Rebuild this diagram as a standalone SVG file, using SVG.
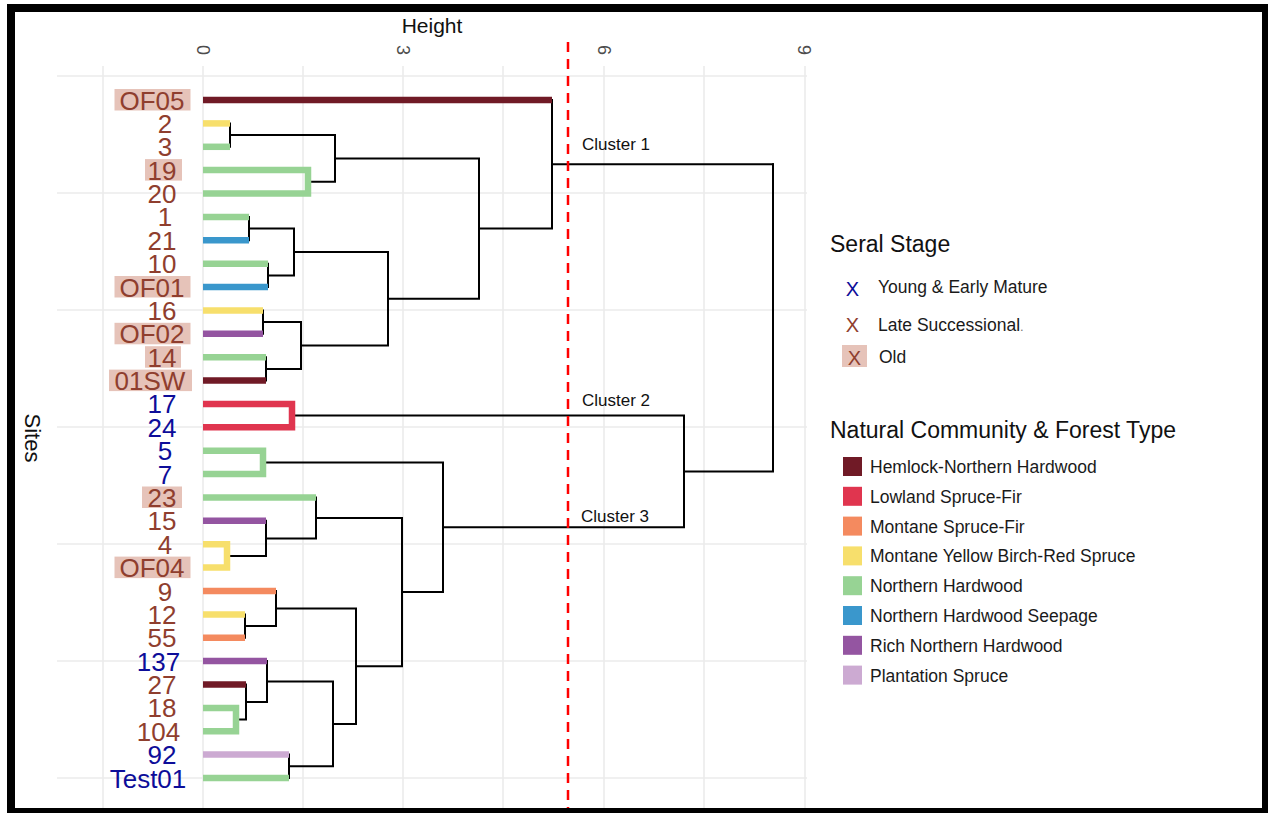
<svg xmlns="http://www.w3.org/2000/svg" width="1268" height="813" viewBox="0 0 1268 813">
<defs>
<style>
.grid{stroke:#ebebeb;stroke-width:1.6;fill:none}
.tick{font-family:"Liberation Sans",Arial,sans-serif;font-size:18px;fill:#4d4d4d;text-anchor:middle}
.lbl{font-family:"Liberation Sans",Arial,sans-serif;font-size:26px;text-anchor:middle}
.late{fill:#8f3e2e}
.young{fill:#0d0d99}
.oldbg{fill:#e6c3b9}
.bar{stroke-width:6.5;fill:none;stroke-linecap:butt;stroke-linejoin:miter}
.conn{stroke:#000;stroke-width:2;fill:none;stroke-linecap:square}
.hem{stroke:#701a26}.low{stroke:#e0354f}.msf{stroke:#f48a5f}.myb{stroke:#f7df6c}
.nh{stroke:#97d394}.nhs{stroke:#3a97cc}.rnh{stroke:#9455a1}.ps{stroke:#ccaad2}
.clu{font-family:"Liberation Sans",Arial,sans-serif;font-size:17px;fill:#111}
.ttl{font-family:"Liberation Sans",Arial,sans-serif;font-size:23px;fill:#111}
.leg{font-family:"Liberation Sans",Arial,sans-serif;font-size:17.5px;fill:#1a1a1a}
.mk{font-family:"Liberation Sans",Arial,sans-serif;font-size:20px;text-anchor:middle}
</style>
</defs>
<rect x="0" y="0" width="1268" height="813" fill="#fff"/>
<g id="grid">
<path class="grid" d="M103,66V808M203,66V808M303,66V808M403,66V808M503,66V808M604,66V808M704,66V808M805,66V808"/>
<path class="grid" d="M57,76H807M57,193H807M57,310H807M57,427H807M57,544H807M57,661H807M57,778H807"/>
</g>
<g id="axes">
<text x="432" y="33" font-family="'Liberation Sans',Arial,sans-serif" font-size="21" fill="#111" text-anchor="middle">Height</text>
<text class="tick" x="197" y="50" transform="rotate(90 197 50)">0</text>
<text class="tick" x="397" y="50" transform="rotate(90 397 50)">3</text>
<text class="tick" x="598" y="50" transform="rotate(90 598 50)">6</text>
<text class="tick" x="798" y="50" transform="rotate(90 798 50)">9</text>
<text x="25" y="438" font-family="'Liberation Sans',Arial,sans-serif" font-size="22" fill="#111" text-anchor="middle" transform="rotate(90 25 438)">Sites</text>
</g>
<g id="connectors">
<path class="conn" d="M230,123.4V146.8M230,135.1H335M308,181.8H335M335,135.1V181.8M335,158.5H479M249,216.9V240.3M249,228.6H294M268,263.7V287M268,275.4H294M294,228.6V275.4M294,252H388M263,310.4V333.8M263,322.1H301M266,357.2V380.6M266,368.9H301M301,322.1V368.9M301,345.5H388M388,252V345.5M388,298.8H479M479,158.5V298.8M479,228.6H552M552,100V228.6M552,164.3H773"/>
<path class="conn" d="M292,415.6H684M263,462.4H443M227,555.9H266M266,520.8V555.9M266,538.4H316M316,497.5V538.4M316,517.9H402M245,614.4V637.7M245,626.1H276M276,591V626.1M276,608.5H356M236,719.6H246M246,684.5V719.6M246,702H267M267,661.1V702M267,681.6H333M289,754.6V778M289,766.3H333M333,681.6V766.3M333,724H356M356,608.5V724M356,666.2H402M402,517.9V666.2M402,592H443M443,462.4V592M443,527.2H684M684,415.6V527.2M684,471.4H773M773,164.3V471.4"/>
</g>
<g id="leaves">
<g id="leaf-OF05"><rect class="oldbg" x="114.5" y="89" width="76" height="21.5"/><text class="lbl late" x="152" y="109.5">OF05</text><path class="bar hem" d="M203,100H552"/></g>
<g id="leaf-2"><text class="lbl late" x="165" y="132.9">2</text><path class="bar myb" d="M203,123.4H230"/></g>
<g id="leaf-3"><text class="lbl late" x="165" y="156.3">3</text><path class="bar nh" d="M203,146.8H230"/></g>
<g id="leaf-19"><rect class="oldbg" x="145" y="159.1" width="37" height="21.5"/><text class="lbl late" x="162" y="179.6">19</text></g>
<g id="leaf-20"><text class="lbl late" x="162" y="203">20</text></g>
<path class="bar nh" d="M203,170.1H308V193.5H203"/>
<g id="leaf-1"><text class="lbl late" x="165" y="226.4">1</text><path class="bar nh" d="M203,216.9H249"/></g>
<g id="leaf-21"><text class="lbl late" x="162" y="249.8">21</text><path class="bar nhs" d="M203,240.3H249"/></g>
<g id="leaf-10"><text class="lbl late" x="162" y="273.2">10</text><path class="bar nh" d="M203,263.7H268"/></g>
<g id="leaf-OF01"><rect class="oldbg" x="114.5" y="276" width="76" height="21.5"/><text class="lbl late" x="152" y="296.5">OF01</text><path class="bar nhs" d="M203,287H268"/></g>
<g id="leaf-16"><text class="lbl late" x="162" y="319.9">16</text><path class="bar myb" d="M203,310.4H263"/></g>
<g id="leaf-OF02"><rect class="oldbg" x="114.5" y="322.8" width="76" height="21.5"/><text class="lbl late" x="152" y="343.3">OF02</text><path class="bar rnh" d="M203,333.8H263"/></g>
<g id="leaf-14"><rect class="oldbg" x="145" y="346.2" width="36" height="21.5"/><text class="lbl late" x="162" y="366.7">14</text><path class="bar nh" d="M203,357.2H266"/></g>
<g id="leaf-01SW"><rect class="oldbg" x="109" y="369.6" width="83" height="21.5"/><text class="lbl late" x="150" y="390.1">01SW</text><path class="bar hem" d="M203,380.6H266"/></g>
<g id="leaf-17"><text class="lbl young" x="162" y="413.4">17</text></g>
<g id="leaf-24"><text class="lbl young" x="162" y="436.8">24</text></g>
<path class="bar low" d="M203,403.9H292V427.3H203"/>
<g id="leaf-5"><text class="lbl young" x="165" y="460.2">5</text></g>
<g id="leaf-7"><text class="lbl young" x="165" y="483.6">7</text></g>
<path class="bar nh" d="M203,450.7H263V474.1H203"/>
<g id="leaf-23"><rect class="oldbg" x="142" y="486.5" width="40" height="21.5"/><text class="lbl late" x="162" y="507">23</text><path class="bar nh" d="M203,497.5H316"/></g>
<g id="leaf-15"><text class="lbl late" x="162" y="530.3">15</text><path class="bar rnh" d="M203,520.8H266"/></g>
<g id="leaf-4"><text class="lbl late" x="165" y="553.7">4</text></g>
<g id="leaf-OF04"><rect class="oldbg" x="114.5" y="556.6" width="76" height="21.5"/><text class="lbl late" x="152" y="577.1">OF04</text></g>
<path class="bar myb" d="M203,544.2H227V567.6H203"/>
<g id="leaf-9"><text class="lbl late" x="165" y="600.5">9</text><path class="bar msf" d="M203,591H276"/></g>
<g id="leaf-12"><text class="lbl late" x="162" y="623.9">12</text><path class="bar myb" d="M203,614.4H245"/></g>
<g id="leaf-55"><text class="lbl late" x="162" y="647.2">55</text><path class="bar msf" d="M203,637.7H245"/></g>
<g id="leaf-137"><text class="lbl young" x="158.5" y="670.6">137</text><path class="bar rnh" d="M203,661.1H267"/></g>
<g id="leaf-27"><text class="lbl late" x="162" y="694">27</text><path class="bar hem" d="M203,684.5H246"/></g>
<g id="leaf-18"><text class="lbl late" x="162" y="717.4">18</text></g>
<g id="leaf-104"><text class="lbl late" x="158.5" y="740.8">104</text></g>
<path class="bar nh" d="M203,707.9H236V731.3H203"/>
<g id="leaf-92"><text class="lbl young" x="162" y="764.1">92</text><path class="bar ps" d="M203,754.6H289"/></g>
<g id="leaf-Test01"><text class="lbl young" x="148" y="787.5">Test01</text><path class="bar nh" d="M203,778H289"/></g>
</g>
<g id="cutline">
<path d="M568,42V808" stroke="#ff0000" stroke-width="2.5" stroke-dasharray="10 7" fill="none"/>
</g>
<g id="cluster-labels">
<text class="clu" x="582" y="150">Cluster 1</text>
<text class="clu" x="582" y="406">Cluster 2</text>
<text class="clu" x="581" y="522">Cluster 3</text>
</g>
<g id="legend-seral">
<text class="ttl" x="830" y="252">Seral Stage</text>
<g id="seral-young"><text class="mk young" x="852.5" y="296">X</text><text class="leg" x="878" y="293">Young &amp; Early Mature</text></g>
<g id="seral-late"><text class="mk late" x="852.5" y="332">X</text><text class="leg" x="878" y="331">Late Successional<tspan fill="#777" font-size="13">.</tspan></text></g>
<g id="seral-old"><rect class="oldbg" x="842" y="345" width="25" height="22"/><text class="mk late" x="854.5" y="365">X</text><text class="leg" x="879" y="363">Old</text></g>
</g>
<g id="legend-forest">
<text class="ttl" x="830" y="438">Natural Community &amp; Forest Type</text>
<g id="ft-hem"><rect x="843" y="457" width="19" height="19" fill="#701a26"/><text class="leg" x="870" y="473">Hemlock-Northern Hardwood</text></g>
<g id="ft-low"><rect x="843" y="486.8" width="19" height="19" fill="#e0354f"/><text class="leg" x="870" y="502.8">Lowland Spruce-Fir</text></g>
<g id="ft-msf"><rect x="843" y="516.6" width="19" height="19" fill="#f48a5f"/><text class="leg" x="870" y="532.6">Montane Spruce-Fir</text></g>
<g id="ft-myb"><rect x="843" y="546.4" width="19" height="19" fill="#f7df6c"/><text class="leg" x="870" y="562.4">Montane Yellow Birch-Red Spruce</text></g>
<g id="ft-nh"><rect x="843" y="576.2" width="19" height="19" fill="#97d394"/><text class="leg" x="870" y="592.2">Northern Hardwood</text></g>
<g id="ft-nhs"><rect x="843" y="606" width="19" height="19" fill="#3a97cc"/><text class="leg" x="870" y="622">Northern Hardwood Seepage</text></g>
<g id="ft-rnh"><rect x="843" y="635.8" width="19" height="19" fill="#9455a1"/><text class="leg" x="870" y="651.8">Rich Northern Hardwood</text></g>
<g id="ft-ps"><rect x="843" y="665.6" width="19" height="19" fill="#ccaad2"/><text class="leg" x="870" y="681.6">Plantation Spruce</text></g>
</g>
<rect id="frame" x="11" y="8" width="1255" height="804" fill="none" stroke="#000" stroke-width="8"/>
</svg>
